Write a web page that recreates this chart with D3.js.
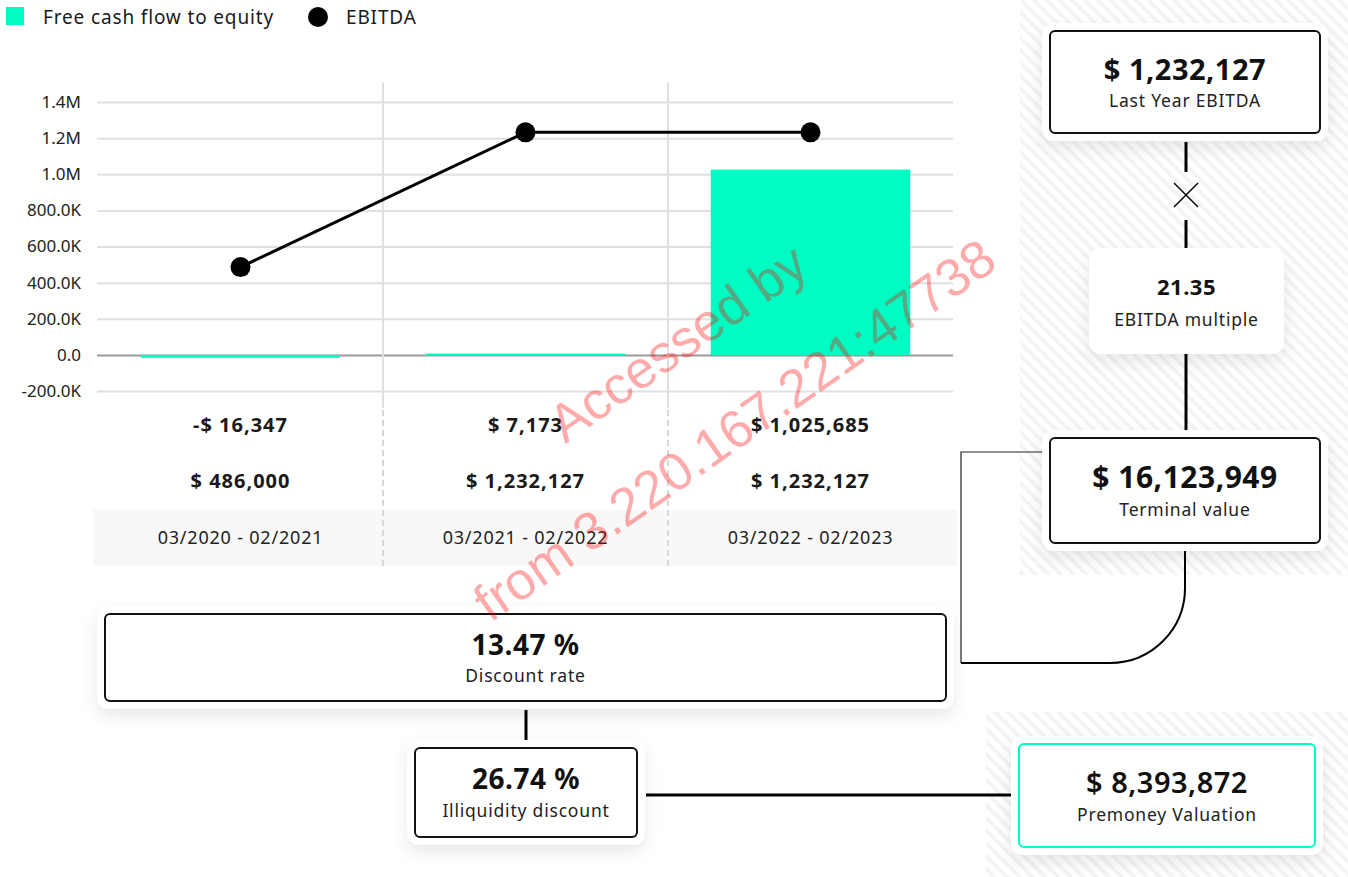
<!DOCTYPE html>
<html>
<head>
<meta charset="utf-8">
<script src="https://cdn.jsdelivr.net/npm/d3@7"></script>
<style>
  body { margin: 0; background: #fff; font-family: "Noto Sans", sans-serif; }
  svg text { font-family: "Noto Sans", sans-serif; fill: #1a1a1a; }
  .axis text { font-size: 17px; fill: #222; }
  .axis .domain { display: none; }
</style>
</head>
<body>
<div id="chart"></div>
<script>

// data
var periods = ["03/2020 - 02/2021", "03/2021 - 02/2022", "03/2022 - 02/2023"];
var fcfe = [-16347, 7173, 1025685];
var ebitda = [486000, 1232127, 1232127];
var yTicks = [-200000, 0, 200000, 400000, 600000, 800000, 1000000, 1200000, 1400000];
var legendNames = ["Free cash flow to equity", "EBITDA"];

var boxValues = ["$ 1,232,127", "21.35", "$ 16,123,949", "13.47 %", "26.74 %", "$ 8,393,872"];
var boxLabels = ["Last Year EBITDA", "EBITDA multiple", "Terminal value", "Discount rate", "Illiquidity discount", "Premoney Valuation"];

var watermark = ["Accessed by", "from 3.220.167.221:47738"];

var mint = "#00fcc2";

var svg = d3.select("#chart").append("svg")
    .attr("width", 1348)
    .attr("height", 877);

var defs = svg.append("defs");

// hatch pattern for the right side panels
var pat = defs.append("pattern")
    .attr("id", "hatch")
    .attr("width", 9)
    .attr("height", 9)
    .attr("patternUnits", "userSpaceOnUse")
    .attr("patternTransform", "rotate(-45)");
pat.append("rect").attr("width", 9).attr("height", 9).attr("fill", "#fff");
pat.append("line")
    .attr("x1", 2).attr("y1", 0).attr("x2", 2).attr("y2", 9)
    .attr("stroke", "#f3f3f3").attr("stroke-width", 3.5);

var shadow = defs.append("filter")
    .attr("id", "shadow")
    .attr("x", "-20%").attr("y", "-40%")
    .attr("width", "140%").attr("height", "190%");
shadow.append("feDropShadow")
    .attr("dx", 0).attr("dy", 7)
    .attr("stdDeviation", 8)
    .attr("flood-color", "#000")
    .attr("flood-opacity", 0.09);

svg.append("rect")
    .attr("x", 1020).attr("y", 0).attr("width", 328).attr("height", 575)
    .attr("fill", "url(#hatch)");
svg.append("rect")
    .attr("x", 986).attr("y", 712).attr("width", 362).attr("height", 165)
    .attr("fill", "url(#hatch)");

// legend
svg.append("rect")
    .attr("x", 6).attr("y", 7).attr("width", 18).attr("height", 18)
    .attr("fill", mint);
svg.append("text")
    .attr("x", 43).attr("y", 24)
    .style("font-size", "19px")
    .style("letter-spacing", "0.85px")
    .text(legendNames[0]);
svg.append("circle")
    .attr("cx", 318).attr("cy", 17).attr("r", 10)
    .attr("fill", "#000");
svg.append("text")
    .attr("x", 346).attr("y", 24)
    .style("font-size", "19px")
    .style("letter-spacing", "0.85px")
    .text(legendNames[1]);

// scales
var x = d3.scaleBand()
    .domain(periods)
    .range([98, 953]);

var y = d3.scaleLinear()
    .domain([-200000, 1400000])
    .range([391, 102]);

var barW = x.bandwidth() * 0.7;

function fmtAxis(v) {
    if (v === 0) return "0.0";
    if (Math.abs(v) >= 1000000) return (v / 1000000).toFixed(1) + "M";
    return (v / 1000).toFixed(1) + "K";
}

function fmtMoney(v) {
    return (v < 0 ? "-" : "") + "$ " + d3.format(",")(Math.abs(v));
}

// grid + y axis
var yAxis = d3.axisLeft(y)
    .tickValues(yTicks)
    .tickSize(-(953 - 97))
    .tickPadding(16)
    .tickFormat(fmtAxis);

var gy = svg.append("g")
    .attr("class", "axis")
    .attr("transform", "translate(97,0)")
    .call(yAxis);

gy.selectAll(".tick line")
    .attr("stroke", function(d) { return d === 0 ? "#9a9a9a" : "#e0e0e0"; })
    .attr("stroke-width", 2);

// grey band behind the period labels
svg.append("rect")
    .attr("x", 93).attr("y", 510)
    .attr("width", 864).attr("height", 56)
    .attr("fill", "#f8f8f8");

// column dividers
var dividers = periods.slice(1).map(function(p) { return x(p); });

svg.selectAll(".div-solid")
    .data(dividers)
    .enter().append("line")
    .attr("class", "div-solid")
    .attr("x1", function(d) { return d; })
    .attr("x2", function(d) { return d; })
    .attr("y1", 83).attr("y2", 408)
    .attr("stroke", "#e0e0e0").attr("stroke-width", 2);

svg.selectAll(".div-dash")
    .data(dividers)
    .enter().append("line")
    .attr("class", "div-dash")
    .attr("x1", function(d) { return d; })
    .attr("x2", function(d) { return d; })
    .attr("y1", 410).attr("y2", 566)
    .attr("stroke", "#d8d8d8").attr("stroke-width", 2)
    .attr("stroke-dasharray", "6,4");

// bars
svg.selectAll(".bar")
    .data(fcfe)
    .enter().append("rect")
    .attr("class", "bar")
    .attr("x", function(d, i) { return x(periods[i]) + (x.bandwidth() - barW) / 2; })
    .attr("width", barW)
    .attr("y", function(d) { return y(Math.max(0, d)); })
    .attr("height", function(d) { return Math.max(2, Math.abs(y(d) - y(0))); })
    .attr("fill", mint);

// ebitda line
var line = d3.line()
    .x(function(d, i) { return x(periods[i]) + x.bandwidth() / 2; })
    .y(function(d) { return y(d); });

svg.append("path")
    .datum(ebitda)
    .attr("d", line)
    .attr("fill", "none")
    .attr("stroke", "#000")
    .attr("stroke-width", 3);

svg.selectAll(".dot")
    .data(ebitda)
    .enter().append("circle")
    .attr("class", "dot")
    .attr("cx", function(d, i) { return x(periods[i]) + x.bandwidth() / 2; })
    .attr("cy", function(d) { return y(d); })
    .attr("r", 10)
    .attr("fill", "#000");

// table rows
svg.selectAll(".fcfe-val")
    .data(fcfe)
    .enter().append("text")
    .attr("class", "fcfe-val")
    .attr("x", function(d, i) { return x(periods[i]) + x.bandwidth() / 2; })
    .attr("y", 432)
    .attr("text-anchor", "middle")
    .style("font-size", "20px").style("font-weight", 700)
    .style("letter-spacing", "1px")
    .text(fmtMoney);

svg.selectAll(".ebitda-val")
    .data(ebitda)
    .enter().append("text")
    .attr("class", "ebitda-val")
    .attr("x", function(d, i) { return x(periods[i]) + x.bandwidth() / 2; })
    .attr("y", 488)
    .attr("text-anchor", "middle")
    .style("font-size", "20px").style("font-weight", 700)
    .style("letter-spacing", "1px")
    .text(fmtMoney);

svg.selectAll(".period")
    .data(periods)
    .enter().append("text")
    .attr("class", "period")
    .attr("x", function(d) { return x(d) + x.bandwidth() / 2; })
    .attr("y", 544)
    .attr("text-anchor", "middle")
    .style("font-size", "18px")
    .style("letter-spacing", "0.8px")
    .style("fill", "#222")
    .text(function(d) { return d; });

// connectors
function seg(x1, y1, x2, y2, w, c) {
    svg.append("line")
        .attr("x1", x1).attr("y1", y1).attr("x2", x2).attr("y2", y2)
        .attr("stroke", c || "#000").attr("stroke-width", w);
}

seg(1186, 142, 1186, 172, 3);
seg(1174, 183, 1198, 207, 1.5);
seg(1198, 183, 1174, 207, 1.5);
seg(1186, 220, 1186, 248, 3);
seg(1186, 354, 1186, 431, 3);
seg(526, 710, 526, 741, 3);
seg(646, 795, 1011, 795, 3);

svg.append("path")
    .attr("d", "M1050,452 L961,452 L961,663")
    .attr("fill", "none").attr("stroke", "#222").attr("stroke-width", 1.2);
svg.append("path")
    .attr("d", "M961,663 L1110,663 A75,75 0 0 0 1185,588 L1185,548")
    .attr("fill", "none").attr("stroke", "#000").attr("stroke-width", 2);

// value boxes
var boxes = [
    { x: 1050, y: 31, w: 270, h: 102, border: "#111", vs: 29, vy: 80, ly: 107 },
    { x: 1089, y: 248, w: 195, h: 106, border: null, vs: 22, vy: 295, ly: 326 },
    { x: 1050, y: 438, w: 270, h: 105, border: "#111", vs: 30, vy: 488, ly: 516 },
    { x: 105, y: 614, w: 841, h: 87, border: "#111", vs: 28, vy: 655, ly: 682 },
    { x: 415, y: 748, w: 222, h: 89, border: "#111", vs: 28, vy: 789, ly: 817 },
    { x: 1019, y: 744, w: 296, h: 103, border: mint, vs: 29, vy: 793, ly: 821, medium: true }
];

boxes.forEach(function(b, i) {
    var g = svg.append("g");
    if (b.border) {
        g.append("rect")
            .attr("x", b.x - 8).attr("y", b.y - 8)
            .attr("width", b.w + 16).attr("height", b.h + 16)
            .attr("rx", 12)
            .attr("fill", "#fff")
            .attr("filter", "url(#shadow)");
        g.append("rect")
            .attr("x", b.x).attr("y", b.y)
            .attr("width", b.w).attr("height", b.h)
            .attr("rx", 5)
            .attr("fill", "#fff")
            .attr("stroke", b.border)
            .attr("stroke-width", 2);
    } else {
        g.append("rect")
            .attr("x", b.x).attr("y", b.y)
            .attr("width", b.w).attr("height", b.h)
            .attr("rx", 12)
            .attr("fill", "#fff")
            .attr("filter", "url(#shadow)");
    }
    g.append("text")
        .attr("x", b.x + b.w / 2).attr("y", b.vy)
        .attr("text-anchor", "middle")
        .style("font-size", b.vs + "px")
        .style("font-weight", b.medium ? 600 : 700)
        .style("letter-spacing", "0.5px")
        .style("fill", "#111")
        .text(boxValues[i]);
    g.append("text")
        .attr("x", b.x + b.w / 2).attr("y", b.ly)
        .attr("text-anchor", "middle")
        .style("font-size", "17.5px")
        .style("letter-spacing", "0.8px")
        .style("fill", "#222")
        .text(boxLabels[i]);
});

// watermark overlay
var wm = svg.append("g")
    .style("pointer-events", "none");
wm.append("text")
    .attr("transform", "translate(688,358) rotate(-35)")
    .attr("text-anchor", "middle")
    .style("font-family", "'Liberation Sans', Arial, sans-serif")
    .style("font-size", "53px")
    .style("fill", "rgba(255,0,0,0.33)")
    .text(watermark[0]);
wm.append("text")
    .attr("transform", "translate(745,445) rotate(-35)")
    .attr("text-anchor", "middle")
    .style("font-family", "'Liberation Sans', Arial, sans-serif")
    .style("font-size", "53px")
    .style("fill", "rgba(255,0,0,0.33)")
    .text(watermark[1]);

</script>
</body>
</html>
